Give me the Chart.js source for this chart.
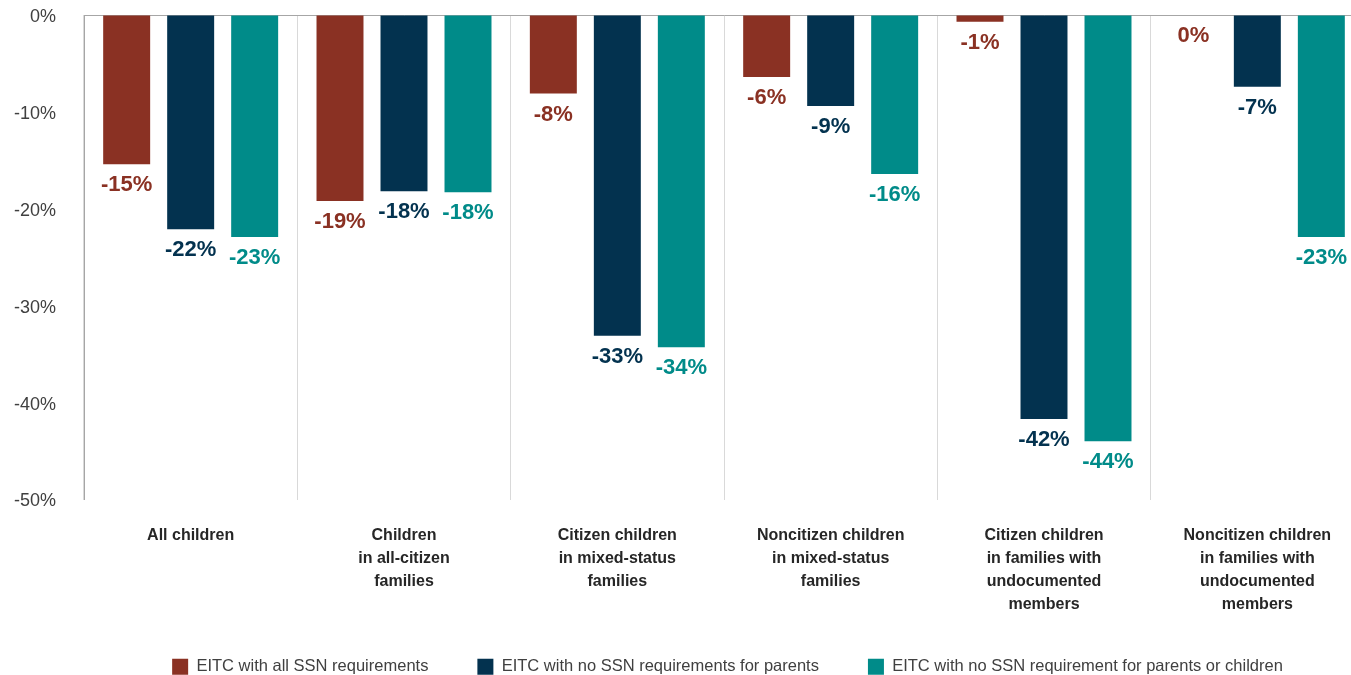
<!DOCTYPE html>
<html>
<head>
<meta charset="utf-8">
<script src="https://cdn.jsdelivr.net/npm/chart.js@4.4.1/dist/chart.umd.min.js"></script>
<style>
  html, body { margin: 0; padding: 0; background: #fff; overflow: hidden; }
  #wrap { width: 1441px; height: 685px; }
</style>
</head>
<body>
<div id="wrap"><canvas id="chart" width="1441" height="685"></canvas></div>
<script>
// Change in child poverty under three EITC eligibility scenarios
const categories = [
  'All children',
  ['Children', 'in all-citizen', 'families'],
  ['Citizen children', 'in mixed-status', 'families'],
  ['Noncitizen children', 'in mixed-status', 'families'],
  ['Citizen children', 'in families with', 'undocumented', 'members'],
  ['Noncitizen children', 'in families with', 'undocumented', 'members']
];
const seriesNames = [
  'EITC with all SSN requirements',
  'EITC with no SSN requirements for parents',
  'EITC with no SSN requirement for parents or children'
];
const allSsn = [-15.4, -19.2, -8.1, -6.4, -0.7, 0];
const noSsnParents = [-22.1, -18.2, -33.1, -9.4, -41.7, -7.4];
const noSsnAll = [-22.9, -18.3, -34.3, -16.4, -44.0, -22.9];
const yTicks = [0, -10, -20, -30, -40, -50];

const colors = ['#8a3123', '#03324f', '#008b89'];
const FONT = "'Liberation Sans', Arial, sans-serif";

// Value labels drawn just below the end of each bar
const valueLabels = {
  id: 'valueLabels',
  afterDatasetsDraw(chart) {
    const ctx = chart.ctx;
    ctx.save();
    ctx.font = 'bold 22px ' + FONT;
    ctx.textAlign = 'center';
    ctx.textBaseline = 'middle';
    chart.data.datasets.forEach((ds, i) => {
      const meta = chart.getDatasetMeta(i);
      ctx.fillStyle = ds.backgroundColor;
      meta.data.forEach((bar, j) => {
        const v = Math.round(ds.data[j]);
        ctx.fillText((v === 0 ? 0 : v) + '%', bar.x, bar.y + 21);
      });
    });
    ctx.restore();
  }
};

new Chart(document.getElementById('chart'), {
  type: 'bar',
  data: {
    labels: categories,
    datasets: [allSsn, noSsnParents, noSsnAll].map((d, i) => ({
      label: seriesNames[i],
      data: d,
      backgroundColor: colors[i],
      borderWidth: 0,
      categoryPercentage: 0.9,
      barPercentage: 0.734,
      yAxisID: 'y'
    }))
  },
  options: {
    responsive: false,
    animation: false,
    devicePixelRatio: 1,
    layout: { padding: { left: 14, top: 15, right: 0, bottom: 0 } },
    plugins: {
      tooltip: { enabled: false },
      legend: {
        position: 'bottom',
        labels: {
          boxWidth: 16,
          boxHeight: 16,
          padding: 49,
          color: '#404040',
          font: { family: FONT, size: 16.5 }
        }
      }
    },
    scales: {
      x: {
        offset: true,
        grid: { display: true, offset: true, color: '#d9d9d9', lineWidth: 1, drawTicks: false },
        border: { display: false },
        ticks: {
          padding: 24,
          color: '#262626',
          maxRotation: 0,
          autoSkip: false,
          font: { family: FONT, size: 16, weight: 'bold', lineHeight: 1.45 }
        },
        afterFit(s) { s.height = 110; }
      },
      y: {
        min: -50,
        max: 0,
        afterBuildTicks(s) { s.ticks = yTicks.map(v => ({ value: v })); },
        afterFit(s) { s.width = 70; s.paddingTop = 0; s.paddingBottom = 0; },
        grid: {
          drawTicks: false,
          color: ctx => (ctx.tick && ctx.tick.value === 0 ? '#a6a6a6' : 'rgba(0,0,0,0)'),
          lineWidth: 1
        },
        border: { display: true, color: '#a6a6a6', width: 1 },
        ticks: {
          padding: 28,
          labelOffset: 2,
          color: '#404040',
          font: { family: FONT, size: 18 },
          callback: v => v + '%'
        }
      },
      yRight: {
        type: 'linear',
        position: 'right',
        display: true,
        grid: { display: false, drawOnChartArea: false },
        border: { display: false },
        ticks: { display: false },
        afterFit(s) { s.width = 77; s.paddingTop = 0; s.paddingBottom = 0; }
      }
    }
  },
  plugins: [valueLabels]
});
</script>
</body>
</html>
